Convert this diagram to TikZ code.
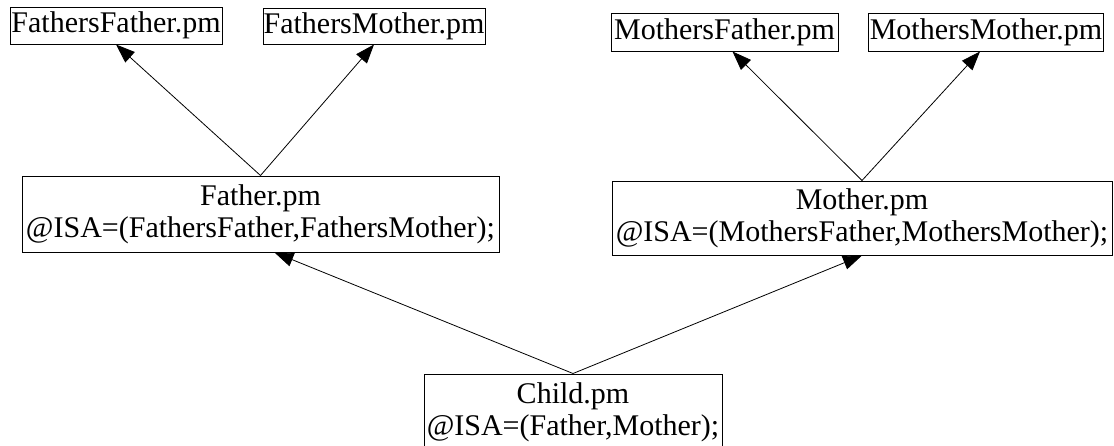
\documentclass[tikz,border=0pt]{standalone}
\usepackage{fontspec}
\setmainfont{Liberation Serif}
\usetikzlibrary{arrows.meta}
\begin{document}
\begin{tikzpicture}[x=1pt,y=-1pt,
	module/.style={draw,line width=1pt,inner sep=0pt,align=center,
		font=\fontsize{30}{32}\selectfont},
	isa/.style={-{Triangle[length=19pt,width=14pt]},line width=0.8pt}]
\useasboundingbox (0,0) rectangle (1114,445);
% grandparents
\node [module,minimum width=212pt,minimum height=37pt] (ff) at (116,25.5) {FathersFather.pm};
\node [module,minimum width=222pt,minimum height=36pt] (fm) at (374,26) {FathersMother.pm};
\node [module,minimum width=227pt,minimum height=38pt] (mf) at (724.5,32) {MothersFather.pm};
\node [module,minimum width=235pt,minimum height=38pt] (mm) at (986,32) {MothersMother.pm};
% parents
\node [module,minimum width=477pt,minimum height=76pt] (father) at (260.5,214)
	{Father.pm\\@ISA=(FathersFather,FathersMother);};
\node [module,minimum width=500pt,minimum height=74pt] (mother) at (862,218)
	{Mother.pm\\@ISA=(MothersFather,MothersMother);};
% child
\node [module,minimum width=298pt,minimum height=76pt] (child) at (573,412)
	{Child.pm\\@ISA=(Father,Mother);};
\draw [isa] (father.north) -- (ff.south);
\draw [isa] (father.north) -- (fm.south);
\draw [isa] (mother.north) -- ([xshift=8pt]mf.south);
\draw [isa] (mother.north) -- ([xshift=-6pt]mm.south);
\draw [isa] (child.north) -- ([xshift=14pt]father.south);
\draw [isa] (child.north) -- (mother.south);
\end{tikzpicture}
\end{document}
